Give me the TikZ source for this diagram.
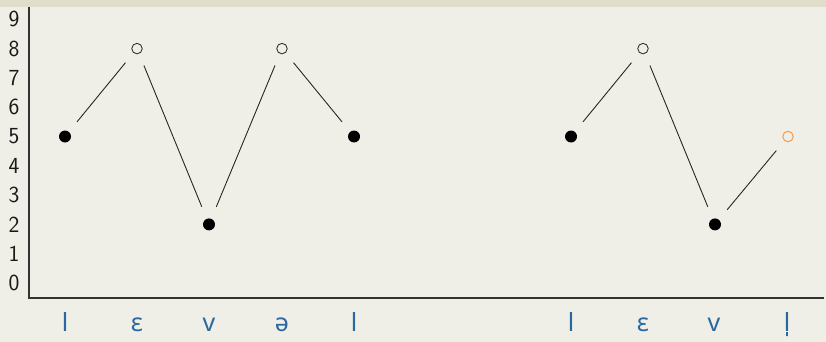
\documentclass[tikz,border=0pt]{standalone}
\usepackage{fontspec}
\usepackage{xcolor}
\usepackage{tikz}
\usetikzlibrary{positioning}

\newfontfamily\ipafont{Noto Sans}
\definecolor{bgmain}{RGB}{240,239,231}
\definecolor{bgtop}{RGB}{224,222,203}
\definecolor{segblue}{RGB}{42,104,160}
\definecolor{dotorange}{RGB}{242,150,70}

\begin{document}
\begin{tikzpicture}[
    x=1pt, y=-1pt,
    full/.style={circle, fill=black, minimum size=12pt, inner sep=0pt, outer sep=13pt},
    hollow/.style={circle, draw=#1, line width=0.9pt, minimum size=10.5pt, inner sep=0pt, outer sep=13pt},
    hollow/.default={black!80},
    tick/.style={font=\sffamily\fontsize{23}{23}\selectfont, text=black!90, inner sep=0pt},
    seg/.style={font=\ipafont\fontsize{25}{25}\selectfont, text=segblue, anchor=base, inner sep=0pt},
    link/.style={line width=0.9pt, black!85}
]

% --- Background ---
\fill[bgmain] (0,0) rectangle (826,342);
\fill[bgtop] (0,0) rectangle (826,7);
\useasboundingbox (0,0) rectangle (826,342);

% --- Axes ---
\coordinate (top) at (29,7);
\coordinate (origin) at (29,298);
\coordinate (right) at (824,298);
\draw[line width=1.1pt, black!80] (top) -- (origin) -- (right);

% --- Level numbers ---
\foreach \n in {0,...,9}
    \node[tick] (lev\n) at (14,{283-29.3*\n}) {\n};

% --- First word ---
\node[full] (l1) at (65,136.5) {};
\node[hollow] (e1) at (137,48.6) {};
\node[full] (v1) at (209,224.4) {};
\node[hollow] (a1) at (282,48.6) {};
\node[full] (l2) at (354,136.5) {};

\draw[link] (l1) -- (e1);
\draw[link] (e1) -- (v1);
\draw[link] (v1) -- (a1);
\draw[link] (a1) -- (l2);

% --- Second word ---
\node[full] (l3) at (571,136.5) {};
\node[hollow] (e2) at (643,48.6) {};
\node[full] (v2) at (715,224.4) {};
\node[hollow=dotorange] (l4) at (788,136.5) {};

\draw[link] (l3) -- (e2);
\draw[link] (e2) -- (v2);
\draw[link] (v2) -- (l4);

% --- Segment labels ---
\node[seg] (sl1) at (65,331) {l};
\node[seg] (se1) at (137,331) {ɛ};
\node[seg] (sv1) at (209,331) {v};
\node[seg] (sa1) at (282,331) {ə};
\node[seg] (sl2) at (354,331) {l};
\node[seg] (sl3) at (571,331) {l};
\node[seg] (se2) at (643,331) {ɛ};
\node[seg] (sv2) at (714,331) {v};
\node[seg] (sl4) at (787,331) {l̩};

\end{tikzpicture}
\end{document}
